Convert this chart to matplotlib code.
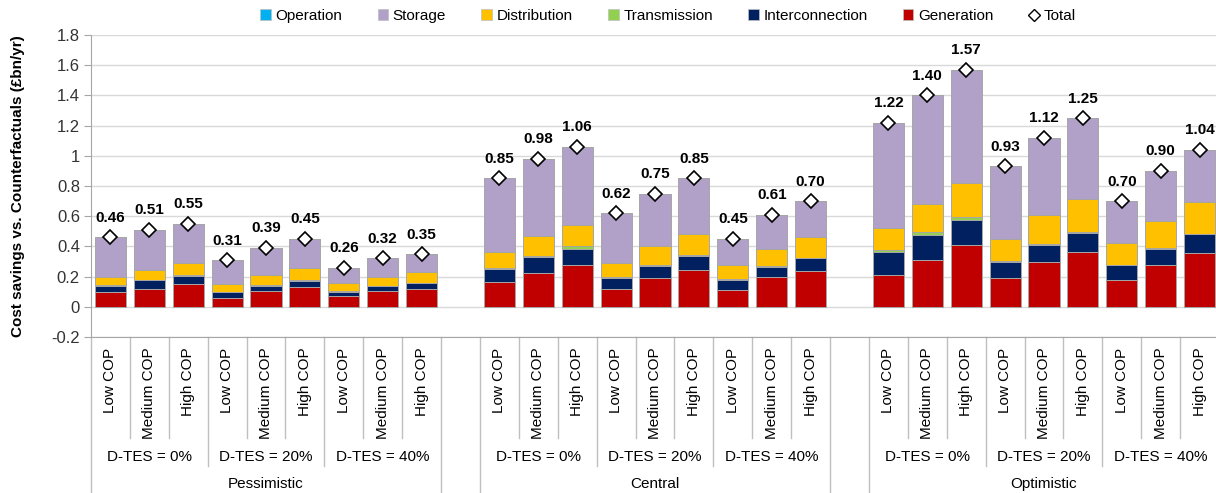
import numpy as np
import matplotlib.pyplot as plt
from matplotlib.lines import Line2D
from matplotlib.patches import Patch

plt.rcParams['font.family'] = ['Liberation Sans', 'DejaVu Sans']

# categories
scenarios = ["Pessimistic", "Central", "Optimistic"]
dtes = ["D-TES = 0%", "D-TES = 20%", "D-TES = 40%"]
cop = ["Low COP", "Medium COP", "High COP"]

# cost savings by component (GBP bn/yr), 27 bars: scenario > D-TES > COP
generation = [0.095, 0.120, 0.148, 0.055, 0.106, 0.132, 0.073, 0.106, 0.120,
              0.161, 0.227, 0.276, 0.117, 0.190, 0.247, 0.108, 0.200, 0.240,
              0.211, 0.313, 0.412, 0.192, 0.295, 0.361, 0.178, 0.280, 0.359]
interconnection = [0.045, 0.055, 0.058, 0.042, 0.035, 0.040, 0.028, 0.030, 0.038,
                   0.090, 0.100, 0.110, 0.075, 0.083, 0.092, 0.070, 0.064, 0.081,
                   0.150, 0.163, 0.165, 0.108, 0.117, 0.128, 0.098, 0.105, 0.120]
transmission = [0.005, 0.005, 0.007, 0.003, 0.003, 0.003, 0.002, 0.002, 0.002,
                0.006, 0.012, 0.015, 0.003, 0.003, 0.003, 0.003, 0.003, 0.003,
                0.016, 0.020, 0.018, 0.003, 0.003, 0.007, 0.003, 0.003, 0.006]
distribution = [0.050, 0.065, 0.074, 0.050, 0.068, 0.079, 0.052, 0.062, 0.070,
                0.105, 0.130, 0.144, 0.098, 0.124, 0.143, 0.093, 0.119, 0.141,
                0.148, 0.187, 0.225, 0.149, 0.190, 0.218, 0.145, 0.183, 0.212]
storage = [0.265, 0.265, 0.263, 0.160, 0.178, 0.196, 0.105, 0.120, 0.120,
           0.488, 0.511, 0.515, 0.327, 0.350, 0.365, 0.176, 0.224, 0.235,
           0.695, 0.717, 0.745, 0.478, 0.515, 0.536, 0.276, 0.329, 0.343]
operation = [0.0, 0.0, 0.0, 0.0, 0.0, 0.0, 0.0, 0.0, 0.0,
             0.0, 0.0, 0.0, 0.0, 0.0, 0.0, 0.0, 0.0, 0.0,
             0.0, 0.0, 0.005, 0.0, 0.0, 0.0, 0.0, 0.0, 0.0]
totals = [0.46, 0.51, 0.55, 0.31, 0.39, 0.45, 0.26, 0.32, 0.35,
          0.85, 0.98, 1.06, 0.62, 0.75, 0.85, 0.45, 0.61, 0.70,
          1.22, 1.40, 1.57, 0.93, 1.12, 1.25, 0.70, 0.90, 1.04]

def main():
    fig = plt.figure(figsize=(12.16, 4.93), dpi=100)
    ax = fig.add_axes([91 / 1216, 1 - 337 / 493, 1128 / 1216, 302 / 493])

    idx = np.arange(len(totals))
    x = idx + idx // 9  # one empty slot between scenarios

    stack = [("Generation", generation, "#C00000"),
             ("Interconnection", interconnection, "#002060"),
             ("Transmission", transmission, "#92D050"),
             ("Distribution", distribution, "#FFC000"),
             ("Storage", storage, "#B1A0C7"),
             ("Operation", operation, "#00B0F0")]

    bottom = np.zeros(len(totals))
    for name, vals, col in stack:
        vals = np.array(vals)
        ax.bar(x, vals, 0.8, bottom=bottom, color=col, edgecolor="#A6A6A6",
               linewidth=0.7, zorder=3)
        bottom = bottom + vals

    ax.plot(x, totals, linestyle="none", marker="D", markersize=7,
            markerfacecolor="white", markeredgecolor="black",
            markeredgewidth=1.2, zorder=5)
    for xi, t in zip(x, totals):
        ax.annotate(f"{t:.2f}", (xi, t), xytext=(0, 14), textcoords="offset points",
                    ha="center", va="center", fontsize=11, fontweight="bold")

    ax.set_xlim(-0.5, 28.5)
    ax.set_ylim(-0.2, 1.8)
    yt = np.round(np.arange(-0.2, 1.81, 0.2), 1)
    ax.set_yticks(yt)
    ax.set_yticklabels([f"{v:g}" for v in yt], fontsize=12, color="#333333")
    ax.tick_params(axis="y", length=5, color="#A6A6A6", pad=3)
    ax.set_xticks([])
    ax.grid(axis="y", color="#D9D9D9", linewidth=1, zorder=0)
    for s in ["top", "right"]:
        ax.spines[s].set_visible(False)
    ax.spines["left"].set_color("#A6A6A6")
    ax.spines["bottom"].set_color("#A6A6A6")

    ax.set_ylabel("Cost savings vs. Counterfactuals (£bn/yr)", fontsize=11,
                  fontweight="bold")
    ax.yaxis.set_label_coords(-0.0585, 0.5)

    # multi-level category axis
    tr = ax.get_xaxis_transform()
    lc = "#BFBFBF"
    for i in range(len(totals)):
        ax.text(x[i], -0.036, cop[i % 3], rotation=90, ha="center", va="top",
                fontsize=11, transform=tr)
    for g in range(9):
        xc = x[g * 3 + 1]
        ax.text(xc, -0.397, dtes[g % 3], ha="center", va="center", fontsize=11,
                transform=tr)
    for s in range(3):
        xc = x[s * 9 + 4]
        ax.text(xc, -0.487, scenarios[s], ha="center", va="center", fontsize=11,
                transform=tr)

    for s in range(3):
        x0 = s * 10 - 0.5
        for k in range(1, 9):
            depth = -0.427 if k % 3 == 0 else -0.334
            ax.add_line(Line2D([x0 + k, x0 + k], [0, depth], color=lc, lw=1,
                               transform=tr, clip_on=False))
        for edge in [x0, x0 + 9]:
            ax.add_line(Line2D([edge, edge], [0, -0.52], color=lc, lw=1,
                               transform=tr, clip_on=False))

    # legend
    handles = [Patch(facecolor=c, edgecolor="#BFBFBF", linewidth=0.5)
               for c in ["#00B0F0", "#B1A0C7", "#FFC000", "#92D050", "#002060", "#C00000"]]
    handles.append(Line2D([], [], linestyle="none", marker="D", markersize=6,
                          markerfacecolor="white", markeredgecolor="black"))
    labels = ["Operation", "Storage", "Distribution", "Transmission",
              "Interconnection", "Generation", "Total"]
    fig.legend(handles, labels, loc="center", bbox_to_anchor=(668 / 1216, 1 - 16 / 493),
               ncol=7, frameon=False, fontsize=11, handlelength=0.7, handleheight=0.7,
               handletextpad=0.3, columnspacing=2.3)

    fig.savefig("out.png", dpi=100)


if __name__ == '__main__':
    main()
